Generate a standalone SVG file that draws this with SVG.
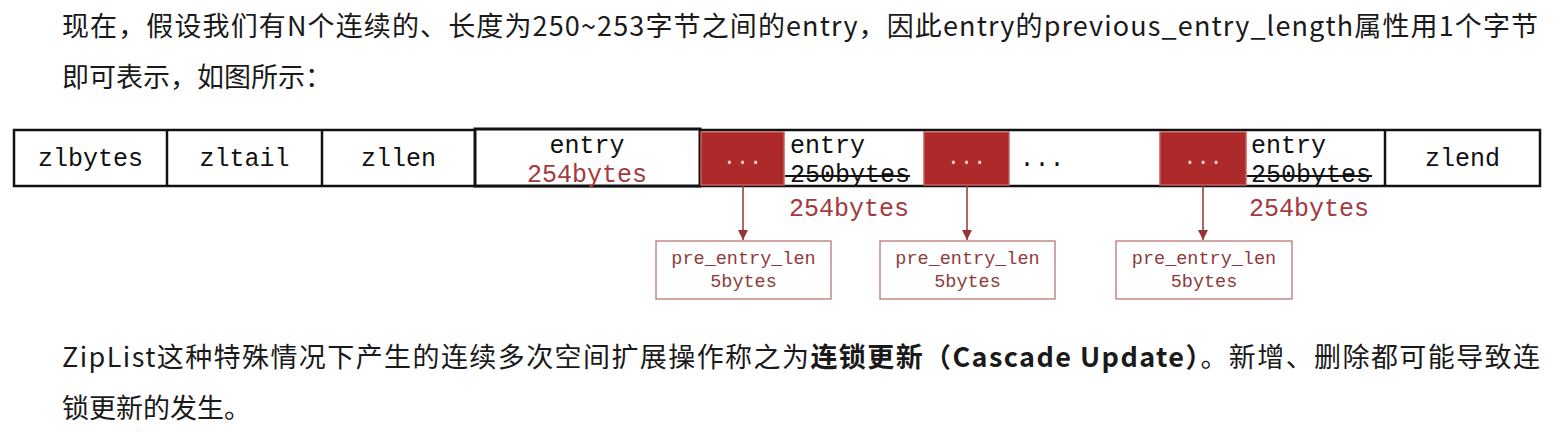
<svg xmlns="http://www.w3.org/2000/svg" width="1562" height="432" viewBox="0 0 1562 432">
<style>
.p{font-family:"Noto Sans CJK SC","Noto Sans",sans-serif;font-size:27px;fill:#1a1a1a}
.b{font-weight:bold}
.m{font-family:"Liberation Mono","DejaVu Sans Mono",monospace;font-size:25px;fill:#111}
.r{fill:#a23a3e}
.c{text-anchor:middle}
.cell{fill:#fff;stroke:#111;stroke-width:2.5}
.red{fill:#ae2a2a;stroke:#c4605c;stroke-width:1.5}
.dots{font-family:"Liberation Mono",monospace;font-size:22px;fill:#f6d4cc;text-anchor:middle}
.pre{fill:#fff;stroke:#b86a6a;stroke-width:1.2}
.pt{font-family:"Liberation Mono","DejaVu Sans Mono",monospace;font-size:18.5px;fill:#8e3a3c;text-anchor:middle}
.conn{stroke:#993333;stroke-width:1.5;fill:none}
</style>
<defs>
<marker id="ah" viewBox="0 0 10 10" refX="10" refY="5" markerWidth="10" markerHeight="10" markerUnits="userSpaceOnUse" orient="auto">
<path d="M0,0 L10,5 L0,10 z" fill="#993333"/>
</marker>
</defs>
<rect width="1562" height="432" fill="#fff"/>

<g id="para-top">
<text class="p" x="62" y="36" textLength="1476" lengthAdjust="spacing">现在，假设我们有N个连续的、长度为250~253字节之间的entry，因此entry的previous_entry_length属性用1个字节</text>
<text class="p" x="62" y="87">即可表示，如图所示：</text>
</g>

<g id="ziplist">
<rect class="cell" x="14" y="130" width="1526" height="56"/>
<g id="zlbytes"><line x1="167" y1="130" x2="167" y2="186" stroke="#111" stroke-width="2.5"/><text class="m c" x="90.5" y="166">zlbytes</text></g>
<g id="zltail"><line x1="322" y1="130" x2="322" y2="186" stroke="#111" stroke-width="2.5"/><text class="m c" x="244.5" y="166">zltail</text></g>
<g id="zllen"><text class="m c" x="398.5" y="166">zllen</text></g>
<g id="entry1">
<rect x="475" y="129" width="225" height="57" fill="#fff" stroke="#111" stroke-width="3"/>
<text class="m c" x="587" y="153">entry</text>
<text class="m r c" x="587" y="182">254bytes</text>
</g>
<g id="prev1"><rect class="red" x="701" y="132" width="83" height="53"/><text class="dots" x="742.5" y="164">...</text></g>
<g id="entry2">
<text class="m" x="790" y="153">entry</text>
<text class="m" x="790" y="182">250bytes</text>
<line x1="785" y1="176" x2="910" y2="176" stroke="#111" stroke-width="1.8"/>
<text class="m r" x="789" y="216">254bytes</text>
</g>
<g id="prev2"><rect class="red" x="924" y="132" width="85" height="53"/><text class="dots" x="966.5" y="164">...</text></g>
<g id="ellipsis"><text class="m" x="1019.5" y="166">...</text></g>
<g id="prev3"><rect class="red" x="1160" y="132" width="86" height="53"/><text class="dots" x="1203" y="164">...</text></g>
<g id="entry3">
<text class="m" x="1251" y="153">entry</text>
<text class="m" x="1251" y="182">250bytes</text>
<line x1="1247" y1="176" x2="1372" y2="176" stroke="#111" stroke-width="1.8"/>
<text class="m r" x="1249" y="216">254bytes</text>
</g>
<g id="zlend"><line x1="1385" y1="130" x2="1385" y2="186" stroke="#111" stroke-width="2.5"/><text class="m c" x="1462.5" y="166">zlend</text></g>
</g>

<g id="connectors">
<line class="conn" x1="743" y1="186" x2="743" y2="240" marker-end="url(#ah)"/>
<line class="conn" x1="967" y1="186" x2="967" y2="240" marker-end="url(#ah)"/>
<line class="conn" x1="1203" y1="186" x2="1203" y2="240" marker-end="url(#ah)"/>
</g>

<g id="pre1"><rect class="pre" x="656" y="241" width="175" height="58"/><text class="pt" x="743.5" y="264">pre_entry_len</text><text class="pt" x="743.5" y="287">5bytes</text></g>
<g id="pre2"><rect class="pre" x="880" y="241" width="175" height="58"/><text class="pt" x="967.5" y="264">pre_entry_len</text><text class="pt" x="967.5" y="287">5bytes</text></g>
<g id="pre3"><rect class="pre" x="1116" y="241" width="176" height="58"/><text class="pt" x="1204" y="264">pre_entry_len</text><text class="pt" x="1204" y="287">5bytes</text></g>

<g id="para-bottom">
<text class="p" x="62" y="367" textLength="1478" lengthAdjust="spacing">ZipList这种特殊情况下产生的连续多次空间扩展操作称之为<tspan class="b">连锁更新（Cascade Update）</tspan>。新增、删除都可能导致连</text>
<text class="p" x="62" y="418">锁更新的发生。</text>
</g>
</svg>
